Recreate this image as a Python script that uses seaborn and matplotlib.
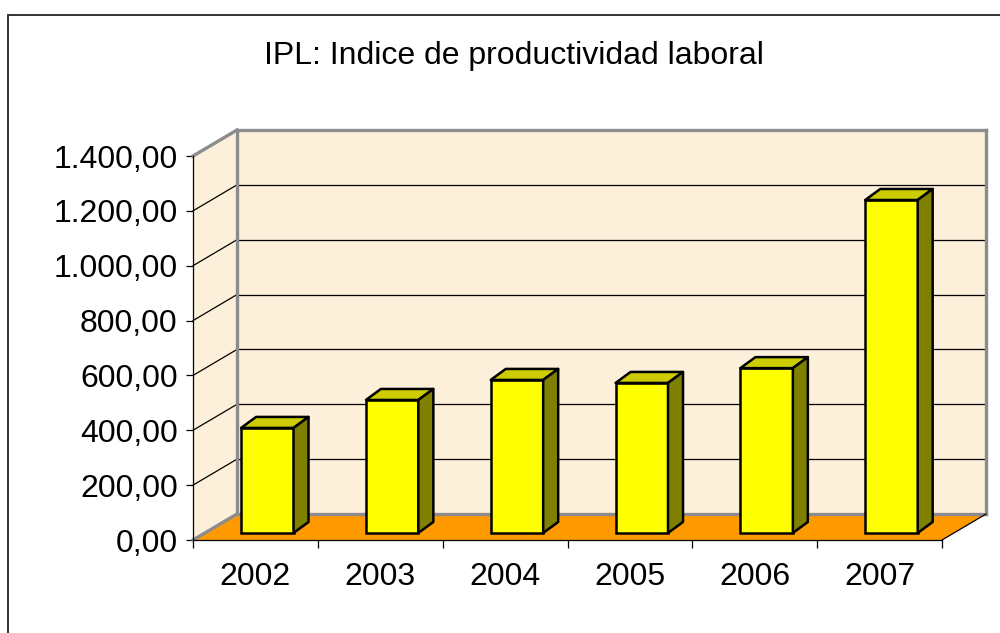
import numpy as np
import pandas as pd
import seaborn as sns
import matplotlib.pyplot as plt
import matplotlib.transforms as mtransforms
from matplotlib.patches import Polygon, Rectangle
from matplotlib.ticker import FuncFormatter

# datos
years = ['2002', '2003', '2004', '2005', '2006', '2007']
ipl = [383, 485, 558, 547, 601, 1214]
yticks = [0, 200, 400, 600, 800, 1000, 1200, 1400]
title = 'IPL: Indice de productividad laboral'

df = pd.DataFrame({'year': years, 'ipl': ipl})

sns.set_style('white')
plt.rcParams['font.family'] = ['Liberation Sans', 'DejaVu Sans']

fig = plt.figure(figsize=(10, 6.33), dpi=100)
# front plane of the 3d box
ax = fig.add_axes([0.193, 93 / 633, 0.749, 384 / 633])
ax.set_facecolor('none')

sns.barplot(data=df, x='year', y='ipl', color='#FFFF00', width=0.42,
            edgecolor='black', linewidth=1.8, saturation=1, ax=ax, zorder=5)
bars = list(ax.patches)
ax.set_xlim(-0.5, 5.5)
ax.set_ylim(0, 1400)

DEPTH = np.array([44.0, 26.0])   # box depth in pixels
BAR_D = 0.27                     # depth of the bar front plane
BAR_OFF = np.array([15.0, 11.0])  # bar depth
ident = mtransforms.IdentityTransform()


def P(x, v, d=0.0):
    return ax.transData.transform((x, v)) + d * DEPTH


def poly(pts, **kw):
    p = Polygon(np.array(pts), closed=True, transform=ident, clip_on=False, **kw)
    ax.add_artist(p)


def line(a, b, **kw):
    a, b = np.array(a), np.array(b)
    ax.add_artist(plt.Line2D([a[0], b[0]], [a[1], b[1]], transform=ident,
                             clip_on=False, **kw))


wall = '#FDF0DA'
# back wall and left wall
poly([P(-0.5, 0, 1), P(5.5, 0, 1), P(5.5, 1400, 1), P(-0.5, 1400, 1)],
     facecolor=wall, edgecolor='none', zorder=0)
poly([P(-0.5, 0, 0), P(-0.5, 0, 1), P(-0.5, 1400, 1), P(-0.5, 1400, 0)],
     facecolor=wall, edgecolor='none', zorder=0)
# floor
poly([P(-0.5, 0, 0), P(5.5, 0, 0), P(5.5, 0, 1), P(-0.5, 0, 1)],
     facecolor='#FF9900', edgecolor='none', zorder=1)

for v in yticks[1:-1]:
    line(P(-0.5, v, 1), P(5.5, v, 1), color='black', lw=0.9, zorder=1)
    line(P(-0.5, v, 0), P(-0.5, v, 1), color='black', lw=0.9, zorder=1)

gray = dict(color='#8C8C8C', lw=2.4, zorder=2, solid_capstyle='projecting')
line(P(-0.5, 1400, 1), P(5.5, 1400, 1), **gray)
line(P(-0.5, 0, 1), P(-0.5, 1400, 1), **gray)
line(P(5.5, 0, 1), P(5.5, 1400, 1), **gray)
line(P(-0.5, 0, 1), P(5.5, 0, 1), **gray)
line(P(-0.5, 1400, 0), P(-0.5, 1400, 1), **gray)
line(P(-0.5, 0, 0), P(-0.5, 0, 1), **gray)
line(P(5.5, 0, 0), P(5.5, 0, 1), color='black', lw=0.9, zorder=2)

# 3d bars: shift the front faces and add tops and sides
off = mtransforms.offset_copy(ax.transData, fig=fig, x=BAR_D * DEPTH[0],
                              y=BAR_D * DEPTH[1], units='dots')
for bar in bars:
    bar.set_transform(off)
    bar.set_clip_on(False)
    x0, w, h = bar.get_x(), bar.get_width(), bar.get_height()
    x1 = x0 + w
    a, b = P(x0, h, BAR_D), P(x1, h, BAR_D)
    c = P(x1, 0, BAR_D)
    poly([a, b, b + BAR_OFF, a + BAR_OFF], facecolor='#CCCC00',
         edgecolor='black', lw=1.8, joinstyle='round', zorder=5)
    poly([c, b, b + BAR_OFF, c + BAR_OFF], facecolor='#808000',
         edgecolor='black', lw=1.8, joinstyle='round', zorder=5)

# front axes
sns.despine(ax=ax, top=True, right=True)
for s in ['left', 'bottom']:
    ax.spines[s].set_color('black')
    ax.spines[s].set_linewidth(0.9)
    ax.spines[s].set_zorder(3)

fmt = FuncFormatter(lambda v, p: f'{v:,.2f}'.replace(',', 'X')
                    .replace('.', ',').replace('X', '.'))
ax.set_yticks(yticks)
ax.yaxis.set_major_formatter(fmt)
ax.tick_params(axis='y', direction='out', length=5, width=0.9, color='black',
               pad=6, labelsize=23, labelcolor='black', left=True)
ax.set_xticks(np.arange(-0.5, 6, 1.0))
ax.set_xticklabels([])
ax.set_xticks(range(len(years)), minor=True)
ax.set_xticklabels(years, minor=True)
ax.tick_params(axis='x', which='major', direction='out', length=6, width=0.9,
               color='black', bottom=True)
ax.tick_params(axis='x', which='minor', length=0, pad=16, labelsize=23,
               labelcolor='black')
ax.set_xlabel('')
ax.set_ylabel('')

# outer frame and title
fig.add_artist(Rectangle((8 / 1000, -0.2), 1.2, 1.2 - 14.5 / 633,
                         transform=fig.transFigure, fill=False,
                         edgecolor='#333333', lw=1.4))
fig.text(514 / 1000, 1 - 64 / 633, title, ha='center', va='baseline',
         fontsize=23, color='black')

fig.savefig('out.png', dpi=100)
